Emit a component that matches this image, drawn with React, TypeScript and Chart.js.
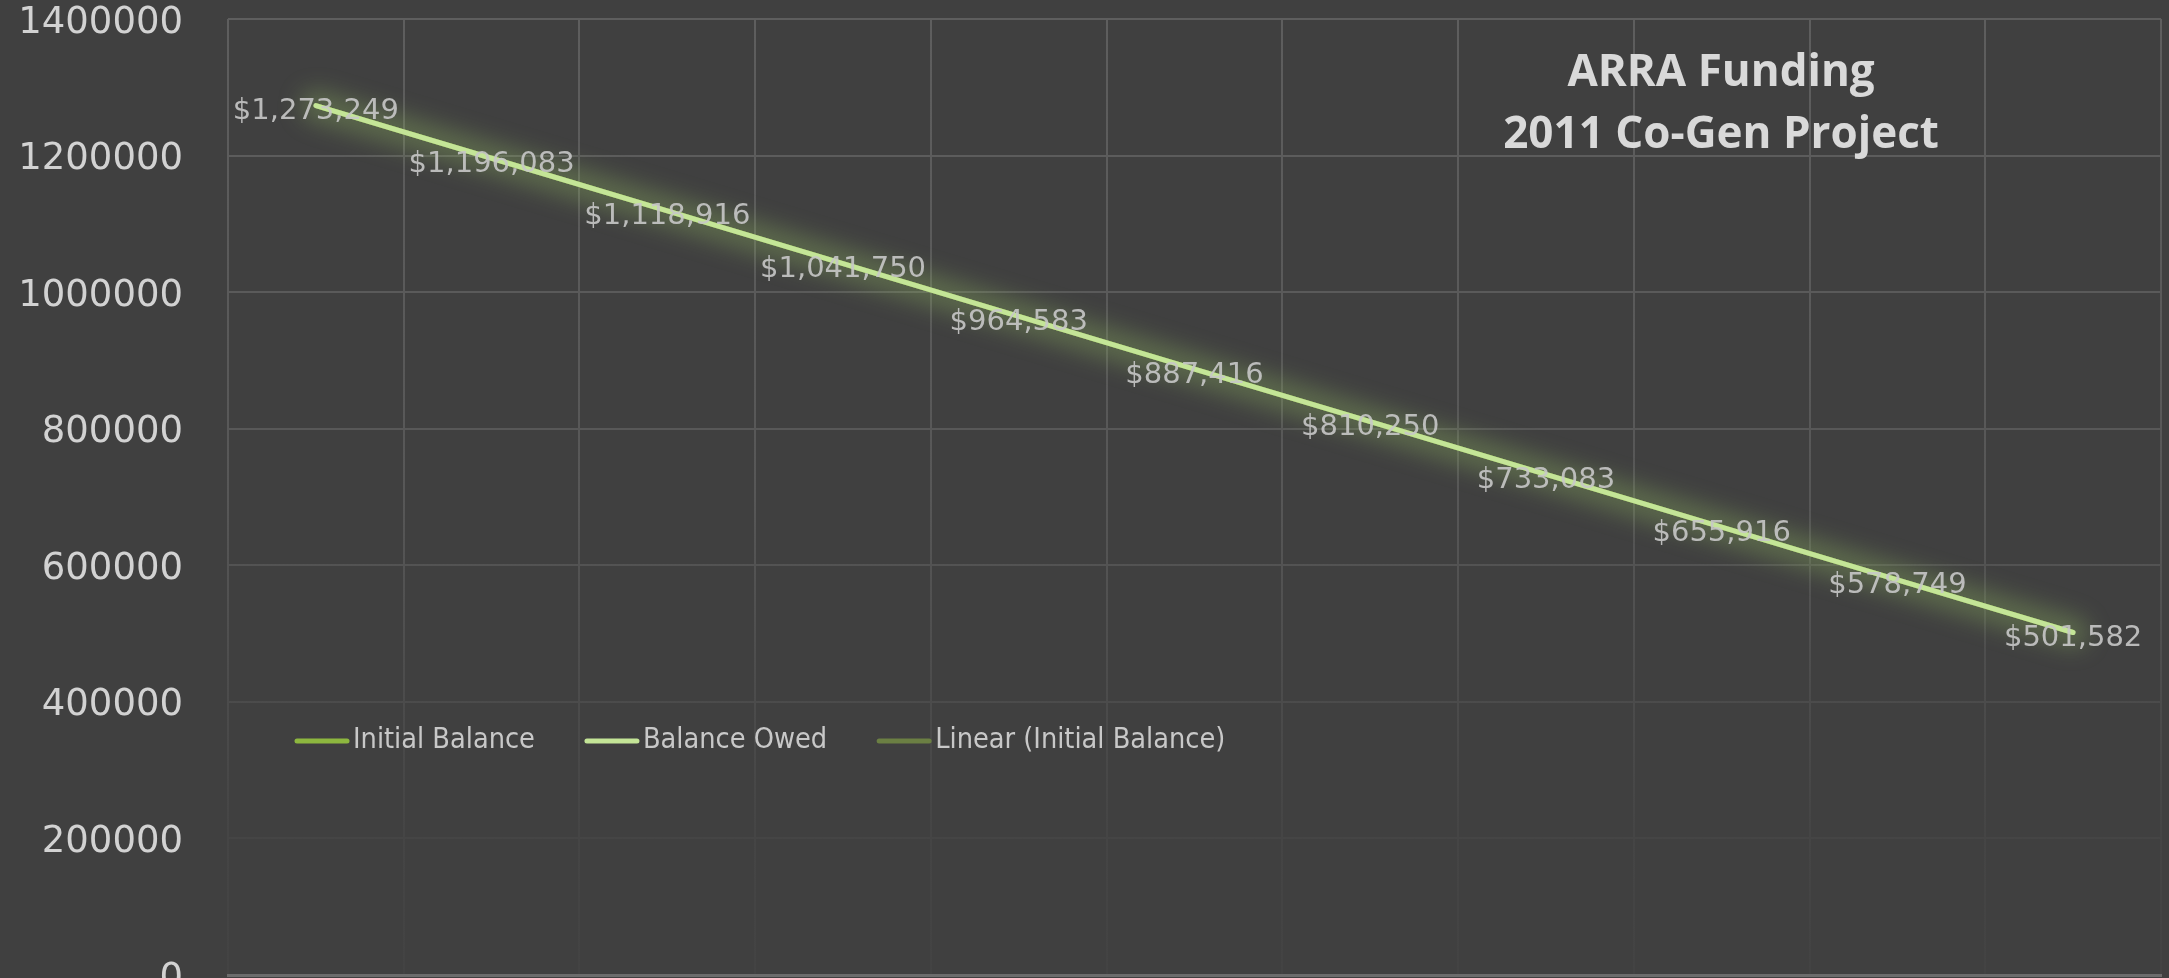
import React, { useEffect, useRef } from 'react';
import { Chart, registerables } from 'chart.js';

Chart.register(...registerables);

const categories = ['1', '2', '3', '4', '5', '6', '7', '8', '9', '10', '11'];
const initialBalance = [1273249, 1196083, 1118916, 1041750, 964583, 887416, 810250, 733083, 655916, 578749, 501582];
const balanceOwed = [1273249, 1196083, 1118916, 1041750, 964583, 887416, 810250, 733083, 655916, 578749, 501582];
const linearInitialBalance = [1273249, 1196083, 1118916, 1041750, 964583, 887416, 810250, 733083, 655916, 578749, 501582];
const yMin = 0;
const yMax = 1400000;
const yStep = 200000;
const titleLines = ['ARRA Funding', '2011 Co-Gen Project'];
const seriesNames = ['Initial Balance', 'Balance Owed', 'Linear (Initial Balance)'];
const seriesColors = ['#8DB73F', '#C4E597', '#6B7F43'];

const BG = '#404040';
const LEGEND_FONT_STACK = '"Liberation Sans Narrow", "DejaVu Sans Condensed", "Roboto Condensed", "Liberation Sans", sans-serif';

let gridGradient: CanvasGradient | null = null;
let gridGradientKey = '';

function gridColor(ctx: any) {
  const chart = ctx.chart;
  const area = chart.chartArea;
  if (!area) return '#575757';
  const key = `${area.top}-${area.bottom}`;
  if (!gridGradient || gridGradientKey !== key) {
    const g = chart.ctx.createLinearGradient(0, area.top, 0, area.bottom);
    g.addColorStop(0, '#5e5e5e');
    g.addColorStop(0.5, '#575757');
    g.addColorStop(0.72, '#4b4b4b');
    g.addColorStop(0.85, '#454545');
    g.addColorStop(1, '#434343');
    gridGradient = g;
    gridGradientKey = key;
  }
  return gridGradient;
}

const backgroundPlugin = {
  id: 'bgFill',
  beforeDraw(chart: any) {
    const { ctx, width, height } = chart;
    ctx.save();
    ctx.fillStyle = BG;
    ctx.fillRect(0, 0, width, height);
    ctx.restore();
  },
};

const glowPlugin = {
  id: 'glow',
  beforeDatasetDraw(chart: any, args: any) {
    const ctx = chart.ctx;
    if (args.index === 1) {
      const pts = chart.getDatasetMeta(1).data;
      ctx.save();
      ctx.filter = 'blur(11px)';
      ctx.strokeStyle = 'rgba(150, 190, 100, 0.32)';
      ctx.lineWidth = 32;
      ctx.lineCap = 'round';
      ctx.lineJoin = 'round';
      ctx.beginPath();
      pts.forEach((p: any, i: number) => {
        if (i === 0) ctx.moveTo(p.x, p.y);
        else ctx.lineTo(p.x, p.y);
      });
      ctx.stroke();
      ctx.restore();
    }
    ctx.save();
  },
  afterDatasetDraw(chart: any) {
    chart.ctx.restore();
  },
};

const labelsPlugin = {
  id: 'valueLabels',
  afterDatasetsDraw(chart: any) {
    const ctx = chart.ctx;
    const meta = chart.getDatasetMeta(1);
    const data = chart.data.datasets[1].data as number[];
    ctx.save();
    ctx.font = '29px "DejaVu Sans"';
    ctx.fillStyle = 'rgba(200, 200, 200, 0.9)';
    ctx.textAlign = 'center';
    ctx.textBaseline = 'middle';
    meta.data.forEach((pt: any, i: number) => {
      const v = data[i];
      const txt = '$' + v.toLocaleString('en-US');
      ctx.fillText(txt, pt.x, pt.y + 6);
    });
    ctx.restore();
  },
};

const titlePlugin = {
  id: 'insideTitle',
  afterDraw(chart: any) {
    const ctx = chart.ctx;
    const area = chart.chartArea;
    const cx = area.left + (area.right - area.left) * 0.7724;
    ctx.save();
    ctx.font = 'bold 44px "Open Sans"';
    ctx.fillStyle = '#D9D9D9';
    ctx.textAlign = 'center';
    ctx.textBaseline = 'middle';
    titleLines.forEach((line, i) => {
      ctx.fillText(line, cx, area.top + 54 + i * 62);
    });
    ctx.restore();
  },
};

const legendPlugin = {
  id: 'customLegend',
  afterDraw(chart: any) {
    const ctx = chart.ctx;
    const area = chart.chartArea;
    const y = area.top + 722;
    let x = area.left + 67;
    ctx.save();
    // size the narrow legend font so the first entry spans ~182px, as in the reference
    ctx.font = `35px ${LEGEND_FONT_STACK}`;
    const w0 = ctx.measureText(seriesNames[0]).width;
    const size = Math.max(20, Math.min(40, (35 * 182) / w0));
    ctx.font = `${size.toFixed(1)}px ${LEGEND_FONT_STACK}`;
    ctx.textBaseline = 'middle';
    ctx.textAlign = 'left';
    chart.data.datasets.forEach((ds: any) => {
      ctx.strokeStyle = ds.borderColor;
      ctx.lineWidth = 5;
      ctx.lineCap = 'round';
      ctx.beginPath();
      ctx.moveTo(x + 2, y);
      ctx.lineTo(x + 52, y);
      ctx.stroke();
      ctx.fillStyle = '#C8C8C8';
      const tx = x + 58;
      ctx.fillText(ds.label, tx, y);
      const w = ctx.measureText(ds.label).width;
      x = tx + w + 50;
    });
    ctx.restore();
  },
};

export default function App() {
  const canvasRef = useRef<HTMLCanvasElement | null>(null);

  useEffect(() => {
    document.body.style.margin = '0';
    document.body.style.background = BG;
    const canvas = canvasRef.current;
    if (!canvas) return;
    const chart = new Chart(canvas, {
      type: 'line',
      data: {
        labels: categories,
        datasets: [
          {
            label: seriesNames[0],
            data: initialBalance,
            borderColor: seriesColors[0],
            backgroundColor: seriesColors[0],
            borderWidth: 5,
            pointRadius: 0,
            tension: 0,
            order: 3,
          },
          {
            label: seriesNames[1],
            data: balanceOwed,
            borderColor: seriesColors[1],
            backgroundColor: seriesColors[1],
            borderWidth: 5,
            pointRadius: 0,
            tension: 0,
            borderCapStyle: 'round',
            order: 1,
          },
          {
            label: seriesNames[2],
            data: linearInitialBalance,
            borderColor: seriesColors[2],
            backgroundColor: seriesColors[2],
            borderWidth: 5,
            pointRadius: 0,
            tension: 0,
            order: 2,
          },
        ],
      },
      options: {
        responsive: false,
        animation: false,
        devicePixelRatio: 1,
        layout: { padding: { top: 19, right: 8, bottom: 3, left: 0 } },
        plugins: {
          legend: { display: false },
          title: { display: false },
          tooltip: { enabled: false },
        },
        scales: {
          x: {
            type: 'category',
            offset: true,
            grid: { offset: true, color: gridColor as any, lineWidth: 2, drawTicks: false },
            border: { display: true, color: '#6c6c6c', width: 3 },
            ticks: { display: false },
            afterFit: (s: any) => {
              s.height = 0;
              s.paddingLeft = 0;
              s.paddingRight = 0;
            },
          },
          y: {
            min: yMin,
            max: yMax,
            ticks: {
              stepSize: yStep,
              padding: 45,
              labelOffset: 4,
              color: '#D2D2D2',
              font: { family: '"DejaVu Sans"', size: 37 },
              callback: (v: any) => String(v),
            },
            grid: { color: gridColor as any, lineWidth: 2, drawTicks: false },
            border: { display: false },
            afterFit: (s: any) => {
              s.width = 228;
              s.paddingTop = 0;
              s.paddingBottom = 0;
            },
          },
        },
      },
      plugins: [backgroundPlugin, glowPlugin, labelsPlugin, titlePlugin, legendPlugin],
    });
    return () => {
      chart.destroy();
    };
  }, []);

  return (
    <div style={{ width: 2169, height: 978, background: BG }}>
      <canvas ref={canvasRef} width={2169} height={978} style={{ display: 'block' }} />
    </div>
  );
}
